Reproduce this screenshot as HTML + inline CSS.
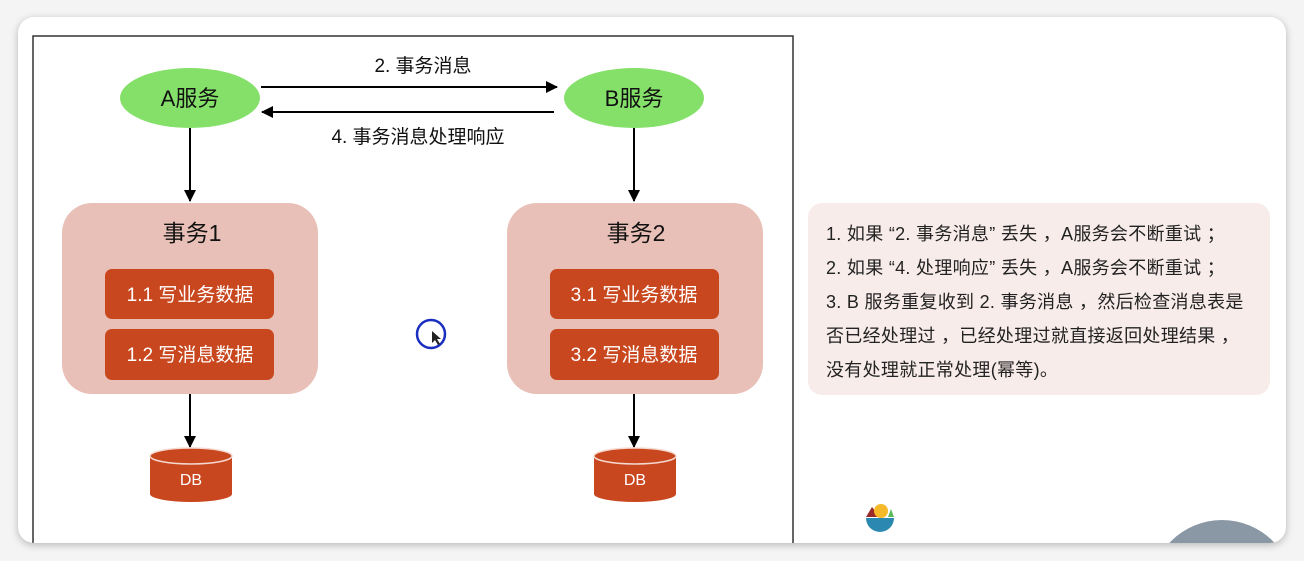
<!DOCTYPE html>
<html style="width:1304px;height:561px;overflow:hidden"><head><meta charset="utf-8"><style>
body{margin:0;width:1304px;height:561px;background:#f4f4f4;overflow:hidden;font-family:"Liberation Sans","Noto Sans CJK SC",sans-serif;position:relative;}
#card{position:absolute;left:18px;top:17px;width:1268px;height:526px;background:#fff;border-radius:16px;box-shadow:0 2px 8px rgba(0,0,0,.25);overflow:hidden;}
.note{position:absolute;left:808px;top:203px;width:462px;height:192px;background:#f7ecea;border-radius:14px;}
.note div{position:absolute;left:18px;font-size:18px;letter-spacing:0.3px;color:#222;white-space:nowrap;}
</style></head><body>
<div id="card"></div>
<svg width="1304" height="561" style="position:absolute;left:0;top:0;display:block">
<defs>
<clipPath id="c"><rect x="18" y="17" width="1268" height="526" rx="16"/></clipPath>
<marker id="ar" markerWidth="12" markerHeight="12" refX="11" refY="6" orient="auto" markerUnits="userSpaceOnUse"><path d="M0,0 L12,6 L0,12 z" fill="#000"/></marker>
</defs>
<circle cx="1222" cy="592" r="72" fill="#8a98a5" clip-path="url(#c)"/>
<rect x="33" y="36" width="760" height="510" fill="none" stroke="#333" stroke-width="1.5" clip-path="url(#c)"/>
<g font-family="Liberation Sans, Noto Sans CJK SC, sans-serif">
<ellipse cx="190" cy="98" rx="70" ry="30" fill="#85e06a"/>
<text x="190" y="106" font-size="22" text-anchor="middle" fill="#111">A服务</text>
<ellipse cx="634" cy="98" rx="70" ry="30" fill="#85e06a"/>
<text x="634" y="106" font-size="22" text-anchor="middle" fill="#111">B服务</text>
<line x1="261" y1="87" x2="557" y2="87" stroke="#000" stroke-width="2" marker-end="url(#ar)"/>
<line x1="554" y1="112" x2="262" y2="112" stroke="#000" stroke-width="2" marker-end="url(#ar)"/>
<text x="423" y="72" font-size="19" text-anchor="middle" fill="#111">2. 事务消息</text>
<text x="418" y="143" font-size="19" text-anchor="middle" fill="#111">4. 事务消息处理响应</text>
<line x1="190" y1="128" x2="190" y2="201" stroke="#000" stroke-width="2" marker-end="url(#ar)"/>
<line x1="634" y1="128" x2="634" y2="201" stroke="#000" stroke-width="2" marker-end="url(#ar)"/>
<rect x="62" y="203" width="256" height="191" rx="30" fill="#e8c0b7"/>
<rect x="507" y="203" width="256" height="191" rx="30" fill="#e8c0b7"/>
<text x="192" y="241" font-size="23" text-anchor="middle" fill="#111">事务1</text>
<text x="636" y="241" font-size="23" text-anchor="middle" fill="#111">事务2</text>
<rect x="105" y="269" width="169" height="50" rx="7" fill="#c9471f"/>
<rect x="105" y="329" width="169" height="51" rx="7" fill="#c9471f"/>
<rect x="550" y="269" width="169" height="50" rx="7" fill="#c9471f"/>
<rect x="550" y="329" width="169" height="51" rx="7" fill="#c9471f"/>
<text x="190" y="301" font-size="19" text-anchor="middle" fill="#fff">1.1 写业务数据</text>
<text x="190" y="361" font-size="19" text-anchor="middle" fill="#fff">1.2 写消息数据</text>
<text x="634" y="301" font-size="19" text-anchor="middle" fill="#fff">3.1 写业务数据</text>
<text x="634" y="361" font-size="19" text-anchor="middle" fill="#fff">3.2 写消息数据</text>
<line x1="190" y1="394" x2="190" y2="447" stroke="#000" stroke-width="2" marker-end="url(#ar)"/>
<line x1="634" y1="394" x2="634" y2="447" stroke="#000" stroke-width="2" marker-end="url(#ar)"/>
<g fill="#c9471f">
<path d="M150,456 v38 a41,8 0 0 0 82,0 v-38 z"/><ellipse cx="191" cy="456" rx="41" ry="8" stroke="#f5d8cf" stroke-width="1.5"/>
<path d="M594,456 v38 a41,8 0 0 0 82,0 v-38 z"/><ellipse cx="635" cy="456" rx="41" ry="8" stroke="#f5d8cf" stroke-width="1.5"/>
</g>
<text x="191" y="485" font-size="16" text-anchor="middle" fill="#fff">DB</text>
<text x="635" y="485" font-size="16" text-anchor="middle" fill="#fff">DB</text>
</g>
<circle cx="431" cy="334" r="14" fill="none" stroke="#1a2fc0" stroke-width="2.5"/>
<path d="M432,331 l0,12 l3,-3 l3,5 l2,-1 l-3,-5 l4,0 z" fill="#222"/>
<path d="M866,518 a14,14 0 0 0 28,0 z" fill="#2b88b0"/>
<path d="M866,517 l6,-10 l8,10 z" fill="#9a2a2a"/>
<circle cx="881" cy="511" r="7" fill="#f5b92a"/>
<path d="M888,517 l3,-8 l3,8 z" fill="#5cb85c"/>
</svg>
<div class="note">
<div style="top:17px">1. 如果 “2. 事务消息” 丢失 ，A服务会不断重试 ；</div>
<div style="top:51px">2. 如果 “4. 处理响应” 丢失 ，A服务会不断重试 ；</div>
<div style="top:85px">3. B 服务重复收到 2. 事务消息 ，然后检查消息表是</div>
<div style="top:119px">否已经处理过 ，已经处理过就直接返回处理结果 ，</div>
<div style="top:153px">没有处理就正常处理(幂等)。</div>
</div>
</body></html>
